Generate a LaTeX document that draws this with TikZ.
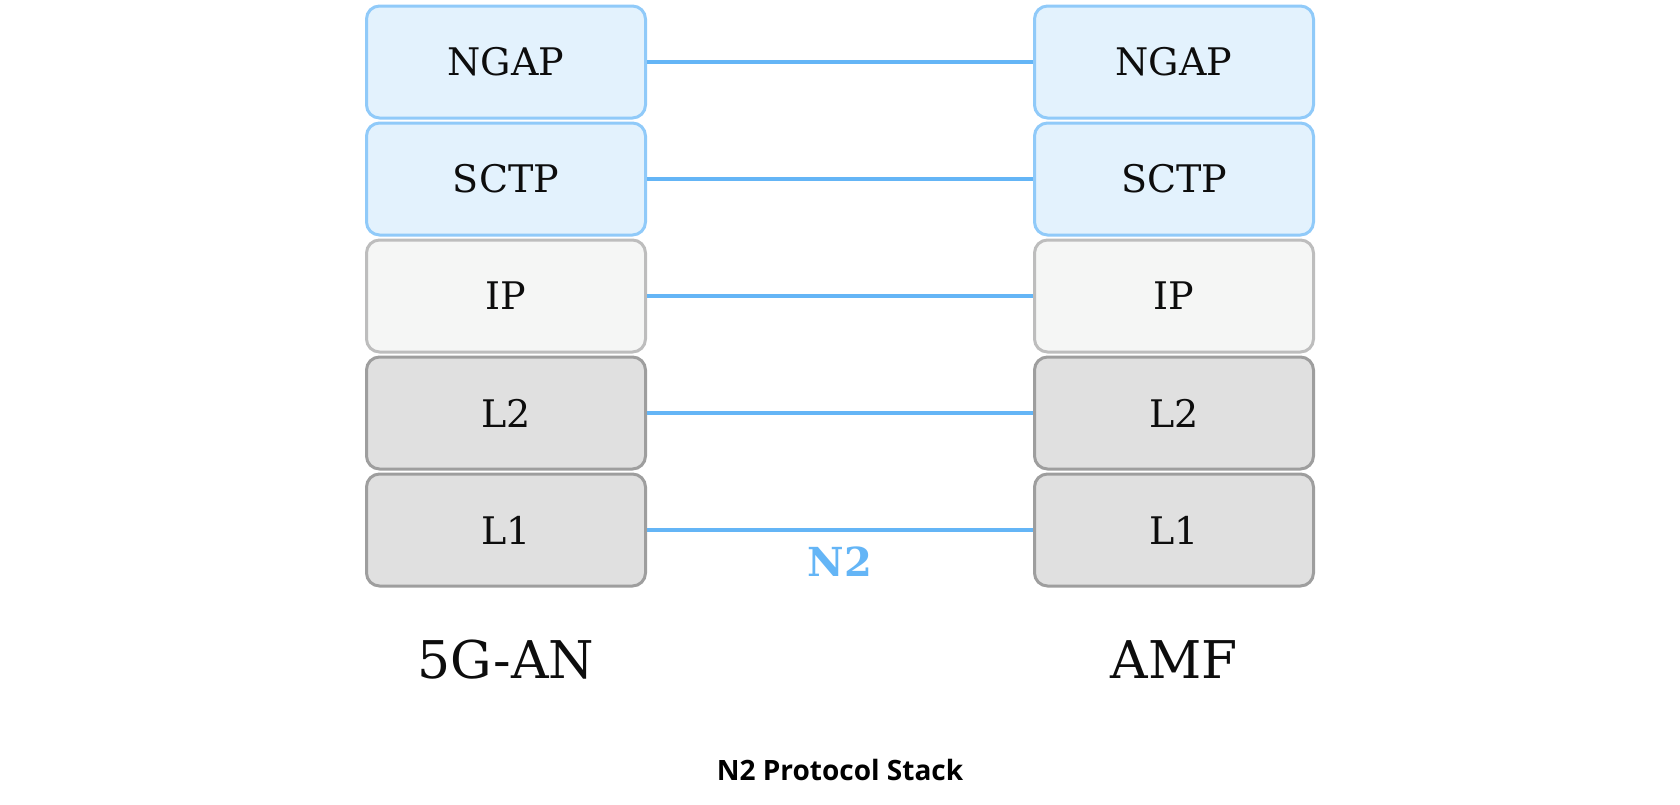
\documentclass[tikz,border=0pt]{standalone}
\usepackage{fontspec}
\usepackage{xcolor}
\setmainfont{DejaVu Serif}
\newfontfamily\captionfont{Open Sans}
\usetikzlibrary{positioning}

\definecolor{linkblue}{HTML}{64B5F6}
\definecolor{blueedge}{HTML}{90CAF9}
\definecolor{bluefill}{HTML}{E3F2FD}
\definecolor{ipedge}{HTML}{BDBDBD}
\definecolor{ipfill}{HTML}{F5F6F5}
\definecolor{lowedge}{HTML}{9E9E9E}
\definecolor{lowfill}{HTML}{E0E0E0}

\begin{document}
\begin{tikzpicture}[x=0.5pt, y=-0.5pt,
  layer/.style={draw, rounded corners=6.5pt, line width=1.5pt, minimum width=139.5pt,
    minimum height=56pt, inner sep=0pt, text=black!95, font=\fontsize{19}{22}\selectfont},
  toplayer/.style={layer, draw=blueedge, fill=bluefill},
  iplayer/.style={layer, draw=ipedge, fill=ipfill},
  lowlayer/.style={layer, draw=lowedge, fill=lowfill},
  link/.style={draw=linkblue, line width=2pt},
  entity/.style={text=black!95, font=\fontsize{26}{30}\selectfont}]
\useasboundingbox (0,0) rectangle (1680,804);
%----------------------------------------
\node[toplayer] (ngapA) at (506, 62) {NGAP};
\node[toplayer] (sctpA) at (506, 179) {SCTP};
\node[iplayer]  (ipA)   at (506, 296) {IP};
\node[lowlayer] (ltwoA) at (506, 413) {L2};
\node[lowlayer] (loneA) at (506, 530) {L1};
%----------------------------------------
\node[toplayer] (ngapB) at (1174, 62) {NGAP};
\node[toplayer] (sctpB) at (1174, 179) {SCTP};
\node[iplayer]  (ipB)   at (1174, 296) {IP};
\node[lowlayer] (ltwoB) at (1174, 413) {L2};
\node[lowlayer] (loneB) at (1174, 530) {L1};
%----------------------------------------
\draw[link] (ngapA) -- (ngapB);
\draw[link] (sctpA) -- (sctpB);
\draw[link] (ipA) -- (ipB);
\draw[link] (ltwoA) -- (ltwoB);
\draw[link] (loneA) -- (loneB);
%----------------------------------------
\node[text=linkblue, font=\bfseries\fontsize{20}{24}\selectfont] (iface) at (840, 562) {N2};
\node[entity] (an) at (506, 660) {5G-AN};
\node[entity] (amf) at (1174, 660) {AMF};
\node[font=\captionfont\bfseries\fontsize{14}{16}\selectfont] (caption) at (840, 770) {N2 Protocol Stack};
\end{tikzpicture}
\end{document}
